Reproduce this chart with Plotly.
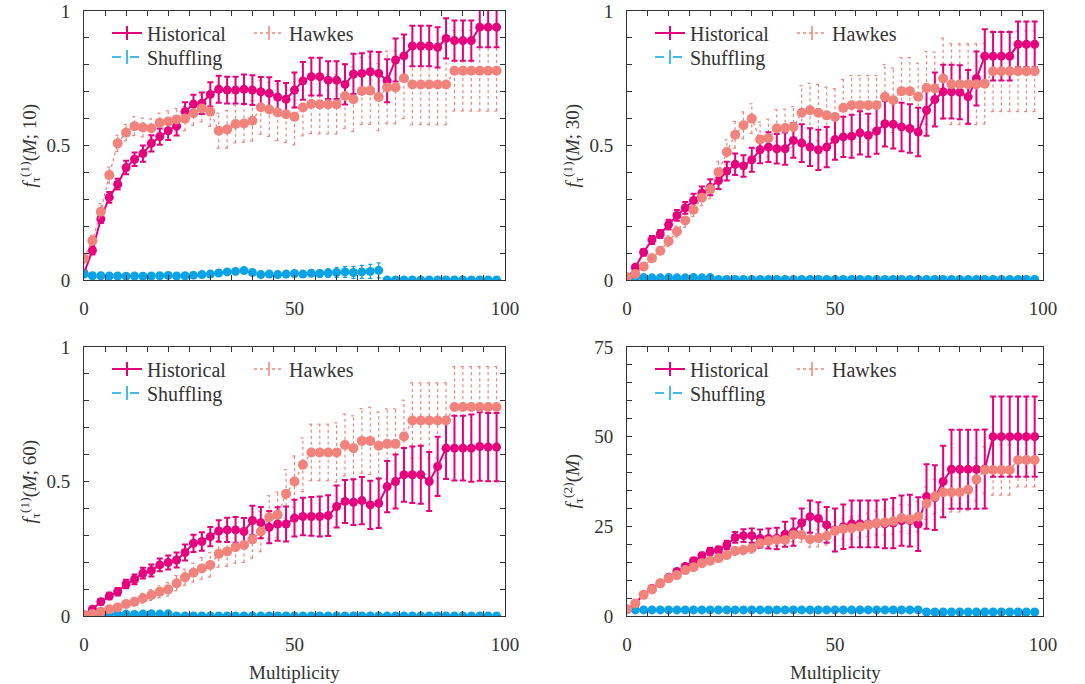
import plotly.graph_objects as go

W, H = 1085, 684
FONT = "Liberation Serif"
TXT = "#333333"
PINK = "#E6007E"
SALMON = "#F2837C"
BLUE = "#0AA3E6"

X = list(range(0, 100, 2))

# ---------------- Panel 1: f^(1)(M;10) ----------------
hist1 = [0.025, 0.11, 0.227, 0.307, 0.356, 0.418, 0.449, 0.47, 0.508, 0.533,
         0.555, 0.572, 0.626, 0.654, 0.657, 0.69, 0.709, 0.706, 0.706, 0.709,
         0.706, 0.70, 0.694, 0.68, 0.672, 0.706, 0.74, 0.756, 0.756, 0.743,
         0.743, 0.727, 0.766, 0.768, 0.774, 0.768, 0.741, 0.818, 0.833, 0.87,
         0.87, 0.87, 0.865, 0.898, 0.89, 0.89, 0.89, 0.94, 0.94, 0.94]
hist1_err = [0.01, 0.015, 0.015, 0.02, 0.02, 0.025, 0.025, 0.03, 0.03, 0.03,
             0.035, 0.035, 0.035, 0.035, 0.04, 0.045, 0.05, 0.05, 0.05, 0.055,
             0.055, 0.055, 0.06, 0.06, 0.06, 0.065, 0.07, 0.07, 0.07, 0.07,
             0.07, 0.075, 0.075, 0.075, 0.075, 0.08, 0.08, 0.08, 0.08, 0.075,
             0.075, 0.075, 0.075, 0.075, 0.075, 0.075, 0.075, 0.075, 0.075, 0.075]
hawk1 = [0.08, 0.146, 0.254, 0.39, 0.508, 0.548, 0.572, 0.567, 0.564, 0.585,
         0.589, 0.597, 0.60, 0.62, 0.638, 0.626, 0.555, 0.56, 0.58, 0.582,
         0.592, 0.642, 0.634, 0.623, 0.616, 0.607, 0.641, 0.654, 0.653, 0.653,
         0.653, 0.684, 0.672, 0.703, 0.704, 0.68, 0.716, 0.716, 0.75, 0.727,
         0.727, 0.727, 0.727, 0.727, 0.778, 0.778, 0.778, 0.778, 0.778, 0.778]
hawk1_err = [0.02, 0.02, 0.03, 0.03, 0.03, 0.03, 0.035, 0.035, 0.035, 0.035,
             0.04, 0.04, 0.045, 0.045, 0.05, 0.055, 0.065, 0.07, 0.07, 0.07,
             0.075, 0.1, 0.1, 0.105, 0.105, 0.105, 0.105, 0.11, 0.11, 0.11,
             0.11, 0.12, 0.12, 0.125, 0.125, 0.125, 0.135, 0.135, 0.15, 0.15,
             0.15, 0.15, 0.15, 0.15, 0.15, 0.15, 0.15, 0.15, 0.15, 0.15]
shuf1 = [0.022, 0.016, 0.016, 0.015, 0.015, 0.014, 0.015, 0.014, 0.015, 0.016,
         0.017, 0.015, 0.016, 0.018, 0.02, 0.022, 0.026, 0.03, 0.032, 0.035,
         0.028, 0.02, 0.022, 0.02, 0.022, 0.024, 0.022, 0.025, 0.024, 0.026,
         0.028, 0.03, 0.028, 0.03, 0.032, 0.036, 0.0, 0.0, 0.0, 0.0,
         0.0, 0.0, 0.0, 0.0, 0.0, 0.0, 0.0, 0.0, 0.0, 0.0]
shuf1_err = [0.004, 0.004, 0.004, 0.004, 0.004, 0.004, 0.004, 0.004, 0.004, 0.004,
             0.005, 0.005, 0.005, 0.006, 0.006, 0.007, 0.008, 0.008, 0.009, 0.01,
             0.008, 0.007, 0.008, 0.008, 0.009, 0.01, 0.011, 0.012, 0.013, 0.015,
             0.018, 0.02, 0.022, 0.024, 0.026, 0.028, 0.0, 0.0, 0.0, 0.0,
             0.0, 0.0, 0.0, 0.0, 0.0, 0.0, 0.0, 0.0, 0.0, 0.0]

# ---------------- Panel 2: f^(1)(M;30) ----------------
hist2 = [0.004, 0.047, 0.103, 0.149, 0.171, 0.206, 0.24, 0.268, 0.296, 0.323,
         0.345, 0.37, 0.405, 0.43, 0.424, 0.447, 0.484, 0.494, 0.488, 0.488,
         0.519, 0.509, 0.494, 0.484, 0.494, 0.522, 0.532, 0.534, 0.547, 0.538,
         0.554, 0.581, 0.579, 0.569, 0.563, 0.55, 0.631, 0.671, 0.70, 0.70,
         0.698, 0.681, 0.749, 0.832, 0.832, 0.832, 0.832, 0.876, 0.876, 0.876]
hist2_err = [0.005, 0.01, 0.012, 0.015, 0.015, 0.018, 0.02, 0.022, 0.025, 0.025,
             0.03, 0.032, 0.035, 0.04, 0.04, 0.045, 0.05, 0.055, 0.055, 0.06,
             0.065, 0.07, 0.07, 0.075, 0.075, 0.075, 0.075, 0.08, 0.08, 0.08,
             0.085, 0.085, 0.09, 0.09, 0.09, 0.09, 0.095, 0.1, 0.1, 0.1,
             0.1, 0.1, 0.1, 0.1, 0.09, 0.09, 0.09, 0.085, 0.085, 0.085]
hawk2 = [0.01, 0.022, 0.05, 0.081, 0.109, 0.144, 0.18, 0.221, 0.261, 0.306,
         0.337, 0.401, 0.476, 0.54, 0.575, 0.60, 0.522, 0.528, 0.563, 0.565,
         0.569, 0.622, 0.631, 0.622, 0.612, 0.606, 0.64, 0.65, 0.65, 0.65,
         0.65, 0.681, 0.668, 0.702, 0.702, 0.681, 0.714, 0.712, 0.749, 0.728,
         0.728, 0.728, 0.728, 0.73, 0.776, 0.776, 0.776, 0.776, 0.776, 0.776]
hawk2_err = [0.005, 0.01, 0.01, 0.015, 0.015, 0.02, 0.02, 0.025, 0.025, 0.03,
             0.035, 0.04, 0.045, 0.05, 0.05, 0.055, 0.065, 0.07, 0.07, 0.07,
             0.075, 0.1, 0.1, 0.105, 0.105, 0.105, 0.105, 0.11, 0.11, 0.11,
             0.11, 0.12, 0.12, 0.125, 0.125, 0.125, 0.135, 0.135, 0.15, 0.15,
             0.15, 0.15, 0.15, 0.15, 0.15, 0.15, 0.15, 0.15, 0.15, 0.15]
shuf2 = [0.008, 0.008, 0.009, 0.008, 0.008, 0.009, 0.008, 0.008, 0.009, 0.008,
         0.009, 0.002, 0.002, 0.002, 0.002, 0.002, 0.002, 0.002, 0.002, 0.002,
         0.002, 0.002, 0.002, 0.002, 0.002, 0.002, 0.002, 0.002, 0.002, 0.002,
         0.002, 0.002, 0.002, 0.002, 0.002, 0.002, 0.002, 0.002, 0.002, 0.002,
         0.002, 0.002, 0.002, 0.002, 0.002, 0.002, 0.002, 0.002, 0.002, 0.002]

# ---------------- Panel 3: f^(1)(M;60) ----------------
hist3 = [0.004, 0.025, 0.053, 0.074, 0.09, 0.119, 0.136, 0.159, 0.169, 0.19,
         0.199, 0.208, 0.236, 0.27, 0.277, 0.295, 0.316, 0.32, 0.32, 0.314,
         0.355, 0.347, 0.33, 0.342, 0.342, 0.364, 0.37, 0.37, 0.37, 0.373,
         0.407, 0.426, 0.423, 0.429, 0.413, 0.419, 0.481, 0.50, 0.525, 0.525,
         0.525, 0.50, 0.556, 0.624, 0.624, 0.624, 0.624, 0.63, 0.628, 0.628]
hist3_err = [0.004, 0.008, 0.01, 0.012, 0.014, 0.016, 0.018, 0.02, 0.022, 0.024,
             0.026, 0.028, 0.03, 0.032, 0.034, 0.036, 0.04, 0.045, 0.048, 0.05,
             0.055, 0.058, 0.06, 0.062, 0.065, 0.068, 0.07, 0.072, 0.074, 0.076,
             0.078, 0.08, 0.085, 0.088, 0.09, 0.092, 0.095, 0.1, 0.1, 0.105,
             0.108, 0.11, 0.11, 0.115, 0.12, 0.12, 0.125, 0.127, 0.127, 0.127]
hawk3 = [0.004, 0.007, 0.016, 0.025, 0.032, 0.045, 0.053, 0.066, 0.078, 0.09,
         0.099, 0.122, 0.144, 0.161, 0.177, 0.19, 0.231, 0.24, 0.256, 0.264,
         0.285, 0.314, 0.367, 0.376, 0.454, 0.50, 0.562, 0.608, 0.608, 0.608,
         0.608, 0.636, 0.624, 0.651, 0.651, 0.633, 0.64, 0.64, 0.667, 0.727,
         0.727, 0.727, 0.727, 0.727, 0.777, 0.777, 0.777, 0.777, 0.777, 0.777]
hawk3_err = [0.003, 0.005, 0.007, 0.01, 0.012, 0.014, 0.016, 0.018, 0.02, 0.022,
             0.025, 0.028, 0.03, 0.035, 0.04, 0.045, 0.05, 0.055, 0.06, 0.065,
             0.07, 0.075, 0.08, 0.085, 0.09, 0.095, 0.1, 0.105, 0.105, 0.105,
             0.11, 0.115, 0.12, 0.12, 0.125, 0.125, 0.13, 0.13, 0.135, 0.14,
             0.14, 0.14, 0.14, 0.14, 0.15, 0.15, 0.15, 0.15, 0.15, 0.15]
shuf3 = [0.004, 0.006, 0.007, 0.006, 0.008, 0.007, 0.006, 0.007, 0.008, 0.007,
         0.008, 0.0, 0.0, 0.0, 0.0, 0.0, 0.0, 0.0, 0.0, 0.0,
         0.0, 0.0, 0.0, 0.0, 0.0, 0.0, 0.0, 0.0, 0.0, 0.0,
         0.0, 0.0, 0.0, 0.0, 0.0, 0.0, 0.0, 0.0, 0.0, 0.0,
         0.0, 0.0, 0.0, 0.0, 0.0, 0.0, 0.0, 0.0, 0.0, 0.0]

# ---------------- Panel 4: f^(2)(M) ----------------
hist4 = [1.9, 3.5, 6.0, 7.7, 9.1, 10.8, 12.4, 13.8, 15.4, 16.8,
         18.0, 18.4, 19.8, 21.9, 22.4, 22.4, 21.6, 21.6, 21.6, 22.8,
         23.4, 26.0, 27.7, 27.2, 25.4, 24.0, 24.9, 25.7, 25.7, 25.7,
         25.7, 25.7, 25.9, 26.6, 26.6, 25.6, 33.3, 33.0, 37.5, 40.9,
         40.9, 40.9, 40.9, 41.0, 50.0, 50.0, 50.0, 50.0, 50.0, 50.0]
hist4_err = [0.2, 0.3, 0.4, 0.5, 0.5, 0.6, 0.6, 0.7, 0.8, 0.8,
             1.0, 1.0, 1.2, 1.5, 1.8, 2.0, 2.5, 2.8, 3.0, 3.5,
             3.8, 4.0, 4.5, 4.5, 5.0, 6.0, 6.2, 6.5, 6.5, 6.5,
             6.5, 6.8, 7.0, 7.0, 7.2, 7.5, 9.0, 9.0, 10.0, 11.0,
             11.0, 11.0, 11.0, 11.0, 11.2, 11.2, 11.2, 11.2, 11.2, 11.2]
hawk4 = [1.9, 3.5, 5.9, 7.4, 9.1, 10.5, 11.4, 12.8, 13.6, 14.7,
         15.4, 16.1, 17.0, 18.1, 18.4, 18.9, 20.3, 20.9, 21.2, 21.2,
         22.6, 22.6, 21.4, 21.7, 22.3, 23.7, 24.3, 24.5, 24.9, 25.4,
         25.9, 26.1, 26.4, 27.3, 27.0, 27.7, 31.4, 33.3, 34.5, 34.5,
         34.5, 35.2, 38.1, 40.7, 40.7, 40.7, 40.7, 43.5, 43.5, 43.5]
hawk4_err = [0.1, 0.2, 0.3, 0.3, 0.4, 0.5, 0.5, 0.6, 0.7, 0.8,
             0.9, 1.0, 1.1, 1.2, 1.3, 1.4, 1.5, 1.6, 1.7, 1.8,
             1.9, 2.0, 2.2, 2.4, 2.5, 2.6, 2.8, 3.0, 3.0, 3.2,
             3.3, 3.5, 3.6, 3.8, 4.0, 4.2, 4.5, 4.8, 5.0, 5.5,
             5.5, 5.8, 6.0, 6.5, 7.0, 7.0, 7.0, 7.5, 7.5, 7.5]
shuf4 = [1.7, 1.7, 1.7, 1.7, 1.7, 1.7, 1.7, 1.7, 1.7, 1.7,
         1.7, 1.7, 1.7, 1.7, 1.7, 1.7, 1.7, 1.7, 1.7, 1.7,
         1.7, 1.7, 1.7, 1.7, 1.7, 1.7, 1.7, 1.7, 1.7, 1.7,
         1.7, 1.7, 1.7, 1.7, 1.7, 1.7, 1.1, 1.1, 1.1, 1.1,
         1.1, 1.1, 1.1, 1.1, 1.1, 1.1, 1.1, 1.1, 1.1, 1.1]

X_TICKS = list(range(0, 101, 5))
X_LABELS = {0: "0", 50: "50", 100: "100"}
Y1_TICKS = [0.0, 0.1, 0.2, 0.3, 0.4, 0.5, 0.6, 0.7, 0.8, 0.9, 1.0]
Y1_LABELS = {0.0: "0", 0.5: "0.5", 1.0: "1"}
Y4_TICKS = list(range(0, 76, 5))
Y4_LABELS = {0: "0", 25: "25", 50: "50", 75: "75"}

panels = [
    dict(hist=hist1, herr=hist1_err, hawk=hawk1, kerr=hawk1_err, shuf=shuf1, serr=shuf1_err,
         ytitle="<i>f</i><sub>τ</sub><sup>(1)</sup>(<i>M</i>; 10)", yr=[0, 1],
         yt=Y1_TICKS, yl=Y1_LABELS),
    dict(hist=hist2, herr=hist2_err, hawk=hawk2, kerr=hawk2_err, shuf=shuf2, serr=None,
         ytitle="<i>f</i><sub>τ</sub><sup>(1)</sup>(<i>M</i>; 30)", yr=[0, 1],
         yt=Y1_TICKS, yl=Y1_LABELS),
    dict(hist=hist3, herr=hist3_err, hawk=hawk3, kerr=hawk3_err, shuf=shuf3, serr=None,
         ytitle="<i>f</i><sub>τ</sub><sup>(1)</sup>(<i>M</i>; 60)", yr=[0, 1],
         yt=Y1_TICKS, yl=Y1_LABELS),
    dict(hist=hist4, herr=hist4_err, hawk=hawk4, kerr=hawk4_err, shuf=shuf4, serr=None,
         ytitle="<i>f</i><sub>τ</sub><sup>(2)</sup>(<i>M</i>)", yr=[0, 75],
         yt=Y4_TICKS, yl=Y4_LABELS),
]

# pixel geometry of the four plot areas (left, right, top, bottom)
boxes = [(84, 505, 11, 280), (627, 1043, 11, 280), (84, 505, 347, 616), (627, 1043, 347, 616)]

fig = go.Figure()
layout = dict(width=W, height=H, margin=dict(l=0, r=0, t=0, b=0),
              paper_bgcolor="white", plot_bgcolor="white", showlegend=True,
              font=dict(family=FONT, size=19, color=TXT))
annotations = []
leg_count = 0

for i, (p, box) in enumerate(zip(panels, boxes)):
    n = i + 1
    xa = "x" if n == 1 else f"x{n}"
    ya = "y" if n == 1 else f"y{n}"
    L, R, T, B = box
    xdom = [L / W, R / W]
    ydom = [1 - B / H, 1 - T / H]

    # Hawkes dotted error bars built from the data
    ex, ey = [], []
    for xv, yv, ev in zip(X, p["hawk"], p["kerr"]):
        ex += [xv, xv, None, xv - 0.55, xv + 0.55, None, xv - 0.55, xv + 0.55, None]
        ey += [yv - ev, yv + ev, None, yv - ev, yv - ev, None, yv + ev, yv + ev, None]

    fig.add_trace(go.Scatter(x=ex, y=ey, mode="lines", xaxis=xa, yaxis=ya,
                             line=dict(color=SALMON, width=1.2, dash="dot"),
                             showlegend=False, hoverinfo="skip"))
    # Historical
    fig.add_trace(go.Scatter(x=X, y=p["hist"], mode="lines+markers", xaxis=xa, yaxis=ya,
                             line=dict(color=PINK, width=2),
                             marker=dict(color=PINK, size=9, symbol="circle"),
                             error_y=dict(type="data", array=p["herr"], color=PINK,
                                          thickness=2, width=3),
                             showlegend=False))
    # Shuffling
    shuf_kw = {}
    if p["serr"] is not None:
        shuf_kw["error_y"] = dict(type="data", array=p["serr"], color=BLUE, thickness=1.2, width=2)
    fig.add_trace(go.Scatter(x=X, y=p["shuf"], mode="lines+markers", xaxis=xa, yaxis=ya,
                             line=dict(color=BLUE, width=1.5, dash="dash"),
                             marker=dict(color=BLUE, size=9, symbol="circle"),
                             showlegend=False, **shuf_kw))
    # Hawkes
    fig.add_trace(go.Scatter(x=X, y=p["hawk"], mode="lines+markers", xaxis=xa, yaxis=ya,
                             line=dict(color=SALMON, width=1.3, dash="dot"),
                             marker=dict(color=SALMON, size=10, symbol="circle"),
                             showlegend=False))

    # legend entries: one legend box per entry for exact placement
    legfont = dict(family=FONT, size=20, color=TXT)
    for name, col, dash, dx, dy in [("Historical", PINK, "solid", 23, 22),
                                    ("Shuffling", BLUE, "dash", 23, 46),
                                    ("Hawkes", SALMON, "dot", 165, 22)]:
        leg_count += 1
        leg = "legend" if leg_count == 1 else f"legend{leg_count}"
        wide = 2 if dash == "solid" else 1.5
        fig.add_trace(go.Scatter(x=[None], y=[None], mode="lines+markers", name=name,
                                 xaxis=xa, yaxis=ya, legend=leg,
                                 line=dict(color=col, width=wide, dash=dash),
                                 marker=dict(color=col, symbol="line-ns-open", size=10,
                                             line=dict(color=col, width=wide))))
        layout[leg] = dict(x=(L + dx) / W, y=1 - (T + dy) / H, xanchor="left",
                           yanchor="middle", bgcolor="rgba(0,0,0,0)", font=legfont,
                           itemwidth=30, borderwidth=0)

    common = dict(showline=True, linecolor=TXT, linewidth=1, mirror="ticks",
                  ticks="inside", ticklen=5, tickcolor=TXT, tickwidth=1,
                  showgrid=False, zeroline=False, automargin=False,
                  tickfont=dict(family=FONT, size=19, color=TXT))
    layout["xaxis" if n == 1 else f"xaxis{n}"] = dict(
        common, domain=xdom, anchor=ya, range=[0, 100], tickmode="array",
        tickvals=X_TICKS, ticktext=[X_LABELS.get(t, "") for t in X_TICKS],
        ticklabelstandoff=11)
    layout["yaxis" if n == 1 else f"yaxis{n}"] = dict(
        common, domain=ydom, anchor=xa, range=p["yr"], tickmode="array",
        tickvals=p["yt"], ticktext=[p["yl"].get(t, "") for t in p["yt"]],
        ticklabelstandoff=9)

    # y-axis title
    annotations.append(dict(text=p["ytitle"], textangle=-90, xref="paper", yref="paper",
                            x=(L - 54) / W, y=(ydom[0] + ydom[1]) / 2, xanchor="center",
                            yanchor="middle", showarrow=False,
                            font=dict(family=FONT, size=19, color=TXT)))
    if n >= 3:
        annotations.append(dict(text="Multiplicity", xref="paper", yref="paper",
                                x=(L + R) / 2 / W, y=1 - 672 / H, xanchor="center",
                                yanchor="middle", showarrow=False,
                                font=dict(family=FONT, size=19, color=TXT)))

layout["annotations"] = annotations
fig.update_layout(**layout)
fig.write_html("out.html", config={"displayModeBar": False},
               post_script="document.body.style.margin='0px';")
